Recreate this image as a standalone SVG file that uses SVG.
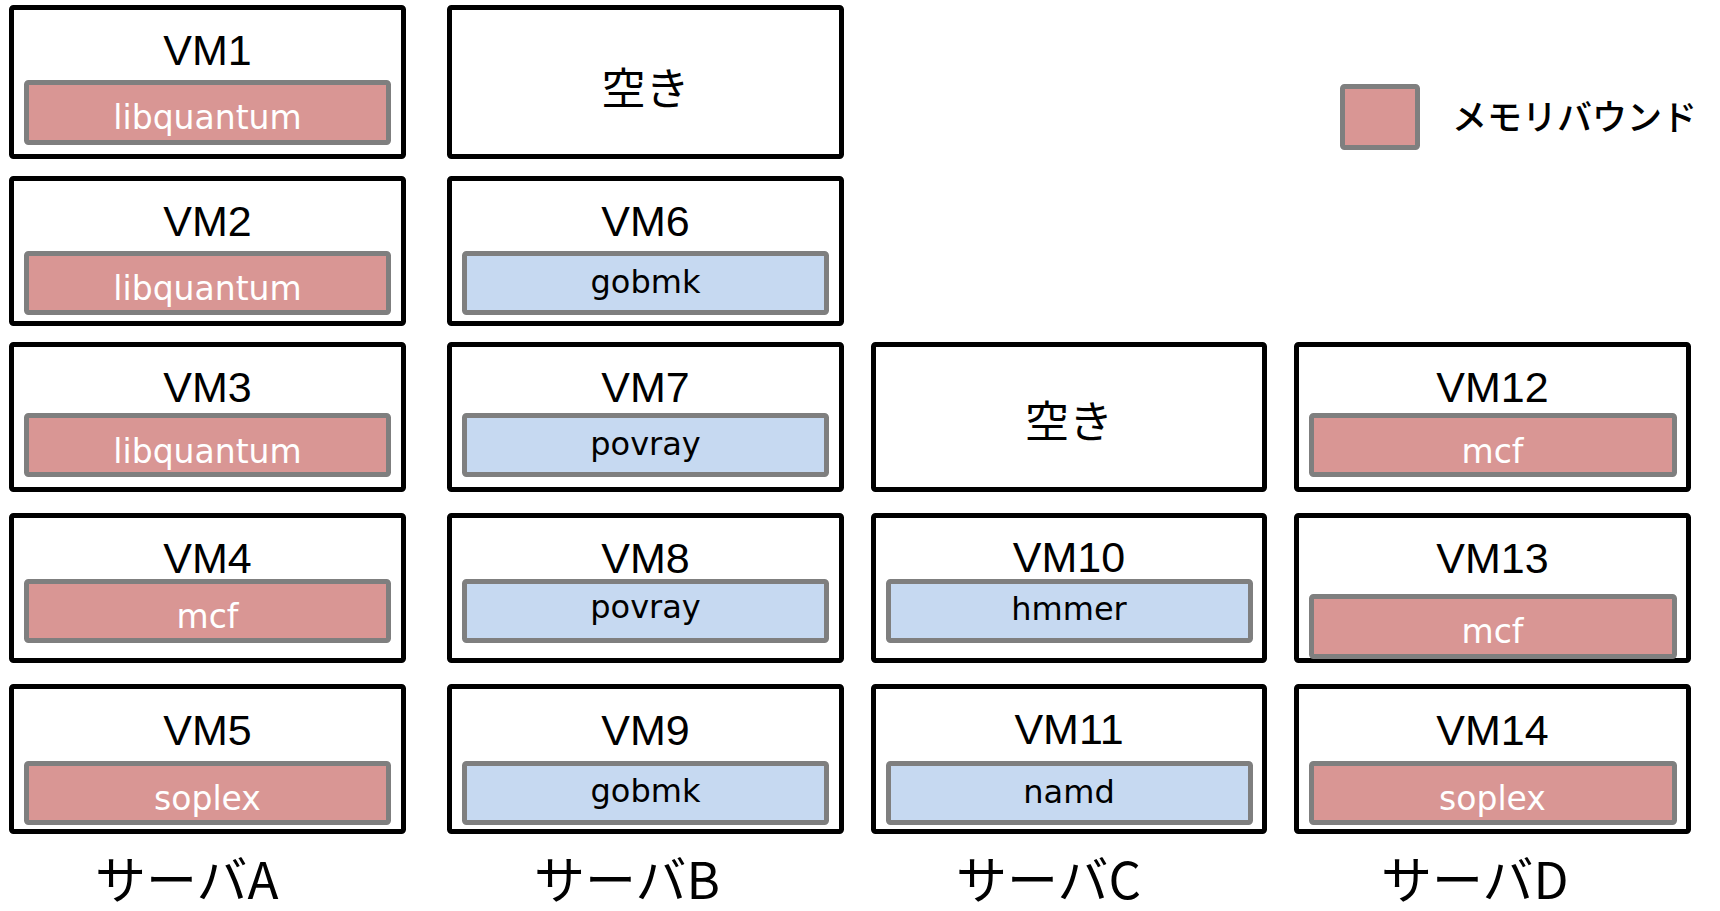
<svg xmlns="http://www.w3.org/2000/svg" width="1720" height="911" viewBox="0 0 1720 911">
<style>
.box{fill:#ffffff;stroke:#000000;stroke-width:5}
.mem{fill:#d99694;stroke:#7f7f7f;stroke-width:5}
.cpu{fill:#c6d9f1;stroke:#7f7f7f;stroke-width:5}
.vm{font-family:"Liberation Sans",Arial,sans-serif;font-size:43px;fill:#000;text-anchor:middle}
.lm{font-family:"DejaVu Sans",sans-serif;font-size:33px;fill:#ffffff;text-anchor:middle}
.lc{font-family:"DejaVu Sans",sans-serif;font-size:32px;fill:#000000;text-anchor:middle}
.jp{font-family:"Noto Sans CJK JP",sans-serif;fill:#000}
</style>
<rect width="1720" height="911" fill="#ffffff"/>
<g id="connectors"/>
<!-- Server A -->
<g id="vm1"><rect class="box" x="11.5" y="7.5" width="392" height="149" rx="2"/><text class="vm" x="207.5" y="65">VM1</text><rect class="mem" x="26.5" y="82.5" width="362" height="60" rx="2"/><text class="lm" x="207.5" y="129">libquantum</text></g>
<g id="vm2"><rect class="box" x="11.5" y="178.5" width="392" height="145" rx="2"/><text class="vm" x="207.5" y="236">VM2</text><rect class="mem" x="26.5" y="253.5" width="362" height="59" rx="2"/><text class="lm" x="207.5" y="300">libquantum</text></g>
<g id="vm3"><rect class="box" x="11.5" y="344.5" width="392" height="145" rx="2"/><text class="vm" x="207.5" y="402">VM3</text><rect class="mem" x="26.5" y="415.5" width="362" height="59" rx="2"/><text class="lm" x="207.5" y="463">libquantum</text></g>
<g id="vm4"><rect class="box" x="11.5" y="515.5" width="392" height="145" rx="2"/><text class="vm" x="207.5" y="573">VM4</text><rect class="mem" x="26.5" y="581.5" width="362" height="59" rx="2"/><text class="lm" x="207.5" y="628">mcf</text></g>
<g id="vm5"><rect class="box" x="11.5" y="686.5" width="392" height="145" rx="2"/><text class="vm" x="207.5" y="745">VM5</text><rect class="mem" x="26.5" y="763.5" width="362" height="59" rx="2"/><text class="lm" x="207.5" y="810">soplex</text></g>
<!-- Server B -->
<g id="freeB"><rect class="box" x="449.5" y="7.5" width="392" height="149" rx="2"/><text class="jp" x="645.5" y="105" font-size="44" text-anchor="middle">空き</text></g>
<g id="vm6"><rect class="box" x="449.5" y="178.5" width="392" height="145" rx="2"/><text class="vm" x="645.5" y="236">VM6</text><rect class="cpu" x="464.5" y="253.5" width="362" height="59" rx="2"/><text class="lc" x="645.5" y="293">gobmk</text></g>
<g id="vm7"><rect class="box" x="449.5" y="344.5" width="392" height="145" rx="2"/><text class="vm" x="645.5" y="402">VM7</text><rect class="cpu" x="464.5" y="415.5" width="362" height="59" rx="2"/><text class="lc" x="645.5" y="455">povray</text></g>
<g id="vm8"><rect class="box" x="449.5" y="515.5" width="392" height="145" rx="2"/><text class="vm" x="645.5" y="573">VM8</text><rect class="cpu" x="464.5" y="581.5" width="362" height="59" rx="2"/><text class="lc" x="645.5" y="618">povray</text></g>
<g id="vm9"><rect class="box" x="449.5" y="686.5" width="392" height="145" rx="2"/><text class="vm" x="645.5" y="745">VM9</text><rect class="cpu" x="464.5" y="763.5" width="362" height="59" rx="2"/><text class="lc" x="645.5" y="802">gobmk</text></g>
<!-- Server C -->
<g id="freeC"><rect class="box" x="873.5" y="344.5" width="391" height="145" rx="2"/><text class="jp" x="1069" y="438" font-size="44" text-anchor="middle">空き</text></g>
<g id="vm10"><rect class="box" x="873.5" y="515.5" width="391" height="145" rx="2"/><text class="vm" x="1069" y="572">VM10</text><rect class="cpu" x="888.5" y="581.5" width="362" height="59" rx="2"/><text class="lc" x="1069" y="620">hmmer</text></g>
<g id="vm11"><rect class="box" x="873.5" y="686.5" width="391" height="145" rx="2"/><text class="vm" x="1069" y="744">VM11</text><rect class="cpu" x="888.5" y="763.5" width="362" height="59" rx="2"/><text class="lc" x="1069" y="803">namd</text></g>
<!-- Server D -->
<g id="vm12"><rect class="box" x="1296.5" y="344.5" width="392" height="145" rx="2"/><text class="vm" x="1492.5" y="402">VM12</text><rect class="mem" x="1311.5" y="415.5" width="363" height="59" rx="2"/><text class="lm" x="1492.5" y="463">mcf</text></g>
<g id="vm13"><rect class="box" x="1296.5" y="515.5" width="392" height="145" rx="2"/><text class="vm" x="1492.5" y="573">VM13</text><rect class="mem" x="1311.5" y="596.5" width="363" height="60" rx="2"/><text class="lm" x="1492.5" y="643">mcf</text></g>
<g id="vm14"><rect class="box" x="1296.5" y="686.5" width="392" height="145" rx="2"/><text class="vm" x="1492.5" y="745">VM14</text><rect class="mem" x="1311.5" y="763.5" width="363" height="59" rx="2"/><text class="lm" x="1492.5" y="810">soplex</text></g>
<!-- Legend -->
<g id="legend"><rect class="mem" x="1342.5" y="86.5" width="75" height="61" rx="2"/><text class="jp" x="1452" y="130" font-size="35" font-weight="500">メモリバウンド</text></g>
<!-- Server labels -->
<g id="labelA"><text class="jp" x="95" y="899" font-size="51">サーバA</text></g>
<g id="labelB"><text class="jp" x="534" y="899" font-size="51">サーバB</text></g>
<g id="labelC"><text class="jp" x="956" y="899" font-size="51">サーバC</text></g>
<g id="labelD"><text class="jp" x="1381" y="899" font-size="51">サーバD</text></g>
</svg>
